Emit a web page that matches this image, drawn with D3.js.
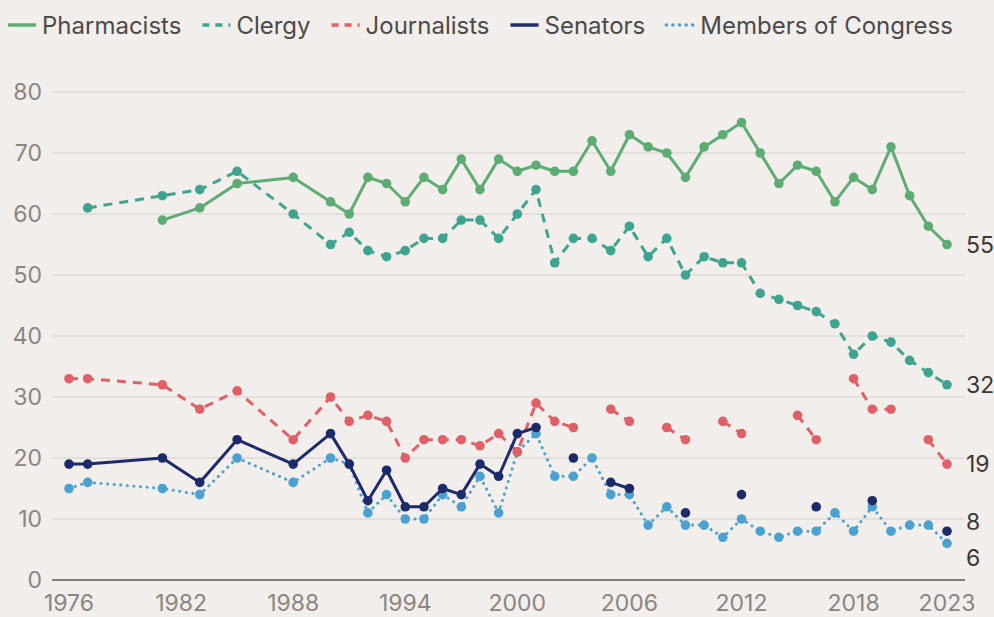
<!DOCTYPE html>
<html>
<head>
<meta charset="utf-8">
<script src="https://cdn.jsdelivr.net/npm/d3@7"></script>
<style>
  html, body { margin: 0; padding: 0; background: #f1eeec; }
  svg { display: block; font-family: Inter, "Noto Sans", sans-serif; }
  .grid line { stroke: #dedad7; stroke-width: 1.5; }
  .tick-label { fill: #8b8480; font-size: 23px; }
  .legend-text { fill: #4d4947; font-size: 24px; }
  .end-label { fill: #3b3735; font-size: 23px; }
</style>
</head>
<body>
<svg id="chart" width="994" height="617"></svg>
<script>
// survey years (Gallup honesty & ethics ratings)
const years = [1976, 1977, 1981, 1983, 1985, 1988,
  1990, 1991, 1992, 1993, 1994, 1995, 1996, 1997, 1998, 1999,
  2000, 2001, 2002, 2003, 2004, 2005, 2006, 2007, 2008, 2009,
  2010, 2011, 2012, 2013, 2014, 2015, 2016, 2017, 2018, 2019,
  2020, 2021, 2022, 2023];

const pharmacists = [null, null, 59, 61, 65, 66,
  62, 60, 66, 65, 62, 66, 64, 69, 64, 69,
  67, 68, 67, 67, 72, 67, 73, 71, 70, 66,
  71, 73, 75, 70, 65, 68, 67, 62, 66, 64,
  71, 63, 58, 55];

const clergy = [null, 61, 63, 64, 67, 60,
  55, 57, 54, 53, 54, 56, 56, 59, 59, 56,
  60, 64, 52, 56, 56, 54, 58, 53, 56, 50,
  53, 52, 52, 47, 46, 45, 44, 42, 37, 40,
  39, 36, 34, 32];

const journalists = [33, 33, 32, 28, 31, 23,
  30, 26, 27, 26, 20, 23, 23, 23, 22, 24,
  21, 29, 26, 25, null, 28, 26, null, 25, 23,
  null, 26, 24, null, null, 27, 23, null, 33, 28,
  28, null, 23, 19];

const senators = [19, 19, 20, 16, 23, 19,
  24, 19, 13, 18, 12, 12, 15, 14, 19, 17,
  24, 25, null, 20, null, 16, 15, null, null, 11,
  null, null, 14, null, null, null, 12, null, null, 13,
  null, null, null, 8];

const congress = [15, 16, 15, 14, 20, 16,
  20, 19, 11, 14, 10, 10, 14, 12, 17, 11,
  21, 24, 17, 17, 20, 14, 14, 9, 12, 9,
  9, 7, 10, 8, 7, 8, 8, 11, 8, 12,
  8, 9, 9, 6];

const xTicks = [1976, 1982, 1988, 1994, 2000, 2006, 2012, 2018, 2023];
const yTicks = [0, 10, 20, 30, 40, 50, 60, 70, 80];

// drawing order: back to front
const series = [
  { name: "Members of Congress", values: congress, color: "#4ba2d0", dash: "0.1 6.5", cap: "round", endDy: 14 },
  { name: "Journalists", values: journalists, color: "#e15f67", dash: "9 7", cap: "butt", endDy: 0 },
  { name: "Clergy", values: clergy, color: "#3ea48f", dash: "9 7", cap: "butt", endDy: 0 },
  { name: "Pharmacists", values: pharmacists, color: "#5dac73", dash: null, cap: "round", endDy: 0 },
  { name: "Senators", values: senators, color: "#1e2b6b", dash: null, cap: "round", endDy: -9 }
];
const legendOrder = ["Pharmacists", "Clergy", "Journalists", "Senators", "Members of Congress"];

const svg = d3.select("#chart");

const x = d3.scaleLinear().domain([1976, 2023]).range([69, 947]);
const y = d3.scaleLinear().domain([0, 80]).range([580, 92]);
const gridLeft = 52, gridRight = 965;

// gridlines
const grid = svg.append("g").attr("class", "grid");
grid.selectAll("line")
  .data(yTicks.filter((d) => d > 0))
  .enter()
  .append("line")
  .attr("x1", gridLeft)
  .attr("x2", gridRight)
  .attr("y1", (d) => y(d))
  .attr("y2", (d) => y(d));

svg.append("line")
  .attr("x1", gridLeft)
  .attr("x2", gridRight)
  .attr("y1", y(0))
  .attr("y2", y(0))
  .attr("stroke", "#5e5654")
  .attr("stroke-width", 1.6);

// y tick labels
svg.append("g")
  .selectAll("text")
  .data(yTicks)
  .enter()
  .append("text")
  .attr("class", "tick-label")
  .attr("x", 42)
  .attr("y", (d) => y(d))
  .attr("dy", "0.36em")
  .attr("text-anchor", "end")
  .text((d) => d);

// x tick labels
svg.append("g")
  .selectAll("text")
  .data(xTicks)
  .enter()
  .append("text")
  .attr("class", "tick-label")
  .attr("x", (d) => x(d))
  .attr("y", 611)
  .attr("text-anchor", "middle")
  .text((d) => d);

// lines and dots
const line = d3.line()
  .defined((d) => d.v !== null)
  .x((d) => x(d.year))
  .y((d) => y(d.v));

for (const s of series) {
  const pts = years.map((year, i) => ({ year, v: s.values[i] }));
  const g = svg.append("g");

  g.append("path")
    .datum(pts)
    .attr("fill", "none")
    .attr("stroke", s.color)
    .attr("stroke-width", 3)
    .attr("stroke-linecap", s.cap)
    .attr("stroke-linejoin", "round")
    .attr("stroke-dasharray", s.dash)
    .attr("d", line);

  g.selectAll("circle")
    .data(pts.filter((d) => d.v !== null))
    .enter()
    .append("circle")
    .attr("cx", (d) => x(d.year))
    .attr("cy", (d) => y(d.v))
    .attr("r", 4.8)
    .attr("fill", s.color);

  const last = pts[pts.length - 1];
  svg.append("text")
    .attr("class", "end-label")
    .attr("x", 966)
    .attr("y", y(last.v) + s.endDy)
    .attr("dy", "0.36em")
    .text(last.v);
}

// legend
const legend = svg.append("g").attr("transform", "translate(8, 25)");
let lx = 0;
for (const name of legendOrder) {
  const s = series.find((d) => d.name === name);
  legend.append("line")
    .attr("x1", lx)
    .attr("x2", lx + 28)
    .attr("y1", 0)
    .attr("y2", 0)
    .attr("stroke", s.color)
    .attr("stroke-width", 3.5)
    .attr("stroke-linecap", s.dash && s.cap === "round" ? "round" : "butt")
    .attr("stroke-dasharray", s.dash === null ? null : (s.cap === "round" ? "0.1 6.5" : "7 6"));
  const t = legend.append("text")
    .attr("class", "legend-text")
    .attr("x", lx + 34)
    .attr("y", 0)
    .attr("dy", "0.36em")
    .text(name);
  lx += 34 + t.node().getComputedTextLength() + 21;
}
</script>
</body>
</html>
